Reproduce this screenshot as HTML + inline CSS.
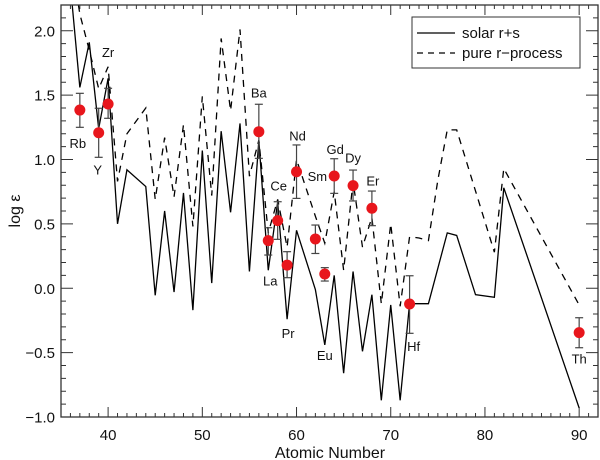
<!DOCTYPE html>
<html><head><meta charset="utf-8"><style>
html,body{margin:0;padding:0;background:#fff;}
svg{display:block;font-family:"Liberation Sans",Arial,sans-serif;}
</style></head><body>
<svg id="chart" width="600" height="460" viewBox="0 0 600 460" xmlns="http://www.w3.org/2000/svg">
<defs><clipPath id="plotclip"><rect x="61" y="5" width="537" height="412"/></clipPath></defs>
<g id="ticks"></g>
<g id="series" clip-path="url(#plotclip)"></g>
<g id="points"></g>
<rect x="61" y="5" width="537" height="412" fill="none" stroke="#333" stroke-width="1.3"/>
<text x="330" y="458" font-size="16" text-anchor="middle" fill="#111">Atomic Number</text>
<text x="20" y="211" font-size="16" text-anchor="middle" fill="#111" transform="rotate(-90 20 211)">log ε</text>
<g>
<rect x="412" y="17" width="168" height="51" fill="#fff" stroke="#333" stroke-width="1"/>
<line x1="417" y1="33" x2="455" y2="33" stroke="#000" stroke-width="1.2"/>
<text x="462" y="38" font-size="15" fill="#111">solar r+s</text>
<line x1="417" y1="53" x2="455" y2="53" stroke="#000" stroke-width="1.2" stroke-dasharray="6,5"/>
<text x="462" y="58" font-size="15" fill="#111">pure r−process</text>
</g>
</svg>
<script>
const solarZ = [36,37,38,39,40,41,42,44,45,46,47,48,49,50,51,52,53,54,55,56,57,58,59,60,62,63,64,65,66,67,68,69,70,71,72,74,76,77,79,81,82,90];
const solarV = [2.35,1.56,1.91,1.24,1.63,0.50,0.92,0.79,-0.055,0.60,-0.03,0.74,-0.17,1.07,0.04,1.22,0.59,1.28,0.13,1.15,0.14,0.67,-0.24,0.45,-0.01,-0.44,0.10,-0.66,0.13,-0.49,-0.05,-0.87,-0.13,-0.87,-0.12,-0.12,0.43,0.41,-0.05,-0.07,0.78,-0.93];
const rZ = [36,37,38,39,40,41,42,44,45,46,47,48,49,50,51,52,53,54,55,56,57,58,59,60,62,63,64,65,66,67,68,69,70,71,72,73,74,75,76,77,81,82,90];
const rV = [2.6,2.13,1.85,1.55,1.72,0.83,1.20,1.40,0.69,1.17,0.71,1.27,0.48,1.49,0.72,1.94,1.38,2.01,0.87,1.15,0.43,0.69,0.32,1.00,0.56,0.35,0.75,0.14,0.83,0.32,0.55,-0.12,0.50,-0.14,0.40,0.39,0.37,0.84,1.23,1.23,0.28,0.93,-0.13];
const obsLabels = ["Rb","Y","Zr","Ba","La","Ce","Pr","Nd","Sm","Eu","Gd","Dy","Er","Hf","Th"];
const obsZ = [37,39,40,56,57,58,59,60,62,63,64,66,68,72,90];
const obsV = [1.384,1.208,1.431,1.216,0.37,0.525,0.18,0.905,0.383,0.111,0.872,0.797,0.621,-0.122,-0.345];
const obsHi = [1.514,1.398,1.553,1.429,0.47,0.672,0.284,1.113,0.491,0.16,1.006,0.918,0.755,0.097,-0.229];
const obsLo = [1.25,1.017,1.32,1.009,0.258,0.38,0.082,0.698,0.27,0.056,0.737,0.678,0.486,-0.35,-0.462];
const labelDx = [-2,-1,0,0,2,1,1,1,2,0,1,0,1,4,0];
const labelDy = [33,37,-52,-39,40,-35,68,-36,-63,81,-27,-28,-28,42,26];

const X0=61,X1=598,Y0=417,Y1=5,ZMIN=35,ZMAX=92,VMIN=-1,VMAX=2.2;
const xs = z => X0 + (z-ZMIN)*(X1-X0)/(ZMAX-ZMIN);
const ys = v => Y0 - (v-VMIN)*(Y0-Y1)/(VMAX-VMIN);
const NS="http://www.w3.org/2000/svg";
function mk(tag, attrs, parent){const e=document.createElementNS(NS,tag);for(const k in attrs)e.setAttribute(k,attrs[k]);parent.appendChild(e);return e;}

const tg=document.getElementById('ticks');
for(let z=36; z<=91; z++){
  const major = z%10===0, L = major?10:4, x=xs(z);
  const t1=mk('line',{x1:x,y1:Y0,x2:x,y2:Y0-L,stroke:'#333','stroke-width':1},tg);
  
  
  const t2=mk('line',{x1:x,y1:Y1,x2:x,y2:Y1+L,stroke:'#333','stroke-width':1},tg);
  
  
  if(major){
    const tl=mk('text',{x:x,y:440,'font-size':15,'text-anchor':'middle',fill:'#111'},tg);
    tl.textContent=String(z);
    
    
  }
}
for(let i=-10;i<=21;i++){
  const v=i/10, major = i%5===0, L=major?12:5, y=ys(v);
  const t1=mk('line',{x1:X0,y1:y,x2:X0+L,y2:y,stroke:'#333','stroke-width':1},tg);
  
  
  const t2=mk('line',{x1:X1,y1:y,x2:X1-L,y2:y,stroke:'#333','stroke-width':1},tg);
  
  
  if(major){
    const tl=mk('text',{x:55,y:y+5.5,'font-size':15,'text-anchor':'end',fill:'#111'},tg);
    tl.textContent=(v<0?'−':'')+Math.abs(v).toFixed(1);
    
    
  }
}

const sg=document.getElementById('series');
const sp=mk('polyline',{points:solarZ.map((z,i)=>xs(z)+','+ys(solarV[i])).join(' '),fill:'none',stroke:'#000','stroke-width':1.3},sg);


const rp=mk('polyline',{points:rZ.map((z,i)=>xs(z)+','+ys(rV[i])).join(' '),fill:'none',stroke:'#000','stroke-width':1.3,'stroke-dasharray':'7,6'},sg);



const pg=document.getElementById('points');
obsZ.forEach((z,i)=>{
  const x=xs(z), y=ys(obsV[i]), yh=ys(obsHi[i]), yl=ys(obsLo[i]);
  const g=mk('g',{},pg);
  
  
  mk('line',{x1:x,y1:yh,x2:x,y2:yl,stroke:'#444','stroke-width':1.2},g);
  mk('line',{x1:x-4,y1:yh,x2:x+4,y2:yh,stroke:'#444','stroke-width':1.2},g);
  mk('line',{x1:x-4,y1:yl,x2:x+4,y2:yl,stroke:'#444','stroke-width':1.2},g);
  mk('circle',{cx:x,cy:y,r:5.5,fill:'#e8161c'},g);
  const t=mk('text',{x:x+labelDx[i],y:y+labelDy[i]+5,'font-size':13,'text-anchor':'middle',fill:'#111'},g);
  t.textContent=obsLabels[i];
  
  
});
</script>
</body></html>
